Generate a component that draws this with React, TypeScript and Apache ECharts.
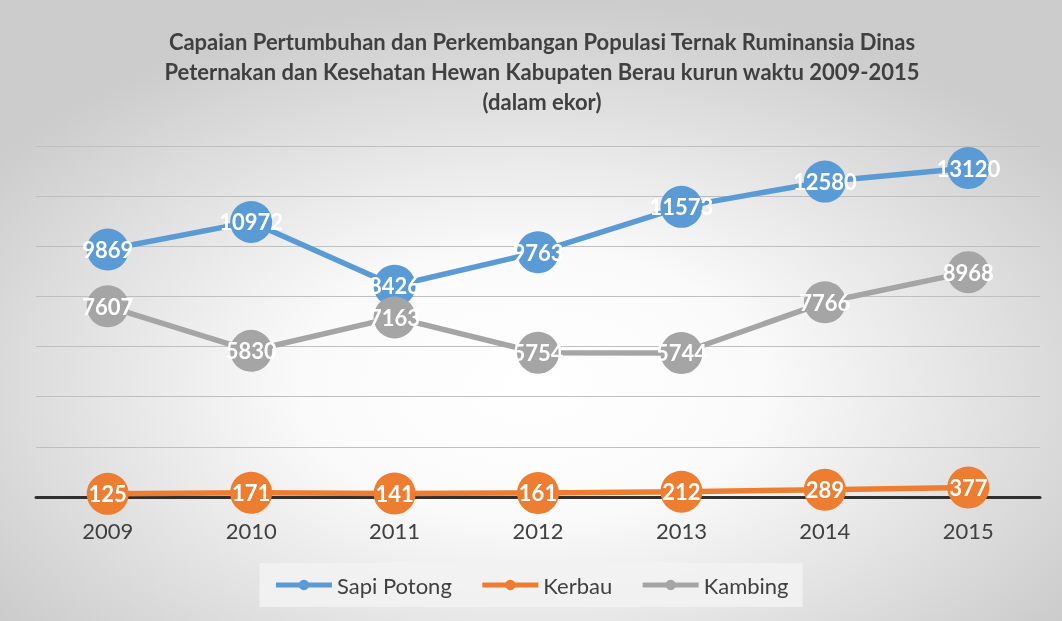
import React, { useEffect, useRef } from "react";
import * as echarts from "echarts";

const years = ["2009", "2010", "2011", "2012", "2013", "2014", "2015"];
const sapiPotong = [9869, 10972, 8426, 9763, 11573, 12580, 13120];
const kerbau = [125, 171, 141, 161, 212, 289, 377];
const kambing = [7607, 5830, 7163, 5754, 5744, 7766, 8968];

const FONT = "Lato, 'Open Sans', sans-serif";

export default function App() {
  const ref = useRef<HTMLDivElement>(null);
  useEffect(() => {
    if (!ref.current) return;
    const chart = echarts.init(ref.current, undefined, { renderer: "svg" });
    const mk = (name: string, data: number[], color: string) => ({
      name,
      type: "line",
      data,
      symbol: "circle",
      symbolSize: 42,
      itemStyle: { color },
      lineStyle: { color, width: 5.5 },
      label: {
        show: true,
        position: "inside",
        color: "#ffffff",
        fontSize: 22,
        fontWeight: "bold",
        fontFamily: FONT,
      },
    });
    chart.setOption({
      animation: false,
      backgroundColor: new echarts.graphic.RadialGradient(0.5, 0.62, 0.62, [
        { offset: 0, color: "#ffffff" },
        { offset: 0.35, color: "#fafafa" },
        { offset: 1, color: "#cccccc" },
      ]),
      title: {
        text:
          "Capaian Pertumbuhan dan Perkembangan Populasi Ternak Ruminansia Dinas\nPeternakan dan Kesehatan Hewan Kabupaten Berau kurun waktu 2009-2015\n(dalam ekor)",
        left: 537,
        top: 21,
        textAlign: "center",
        textStyle: {
          fontFamily: FONT,
          fontSize: 22,
          fontWeight: "bold",
          color: "#404040",
          lineHeight: 30,
        },
      },
      legend: {
        bottom: 14,
        left: "center",
        itemWidth: 56,
        itemHeight: 13,
        itemGap: 28,
        padding: [11, 14, 11, 14],
        backgroundColor: "rgba(242,242,242,0.9)",
        lineStyle: { width: 5 },
        textStyle: { fontFamily: FONT, fontSize: 22, color: "#404040" },
        data: ["Sapi Potong", "Kerbau", "Kambing"],
      },
      grid: { left: 36, right: 22, top: 146, bottom: 124 },
      xAxis: {
        type: "category",
        data: years,
        boundaryGap: true,
        axisTick: { show: false },
        axisLine: { lineStyle: { color: "#303030", width: 3 } },
        axisLabel: {
          fontFamily: FONT,
          fontSize: 22,
          color: "#404040",
          margin: 22,
        },
      },
      yAxis: {
        type: "value",
        min: 0,
        max: 14000,
        interval: 2000,
        axisLabel: { show: false },
        axisLine: { show: false },
        axisTick: { show: false },
        splitLine: { lineStyle: { color: "#bfbfbf", width: 1.2 } },
      },
      series: [
        mk("Sapi Potong", sapiPotong, "#5B9BD5"),
        mk("Kerbau", kerbau, "#ED7D31"),
        mk("Kambing", kambing, "#A5A5A5"),
      ],
    });
    return () => chart.dispose();
  }, []);
  return (
    <div
      ref={ref}
      style={{ position: "fixed", left: 0, top: 0, width: 1062, height: 621 }}
    />
  );
}
